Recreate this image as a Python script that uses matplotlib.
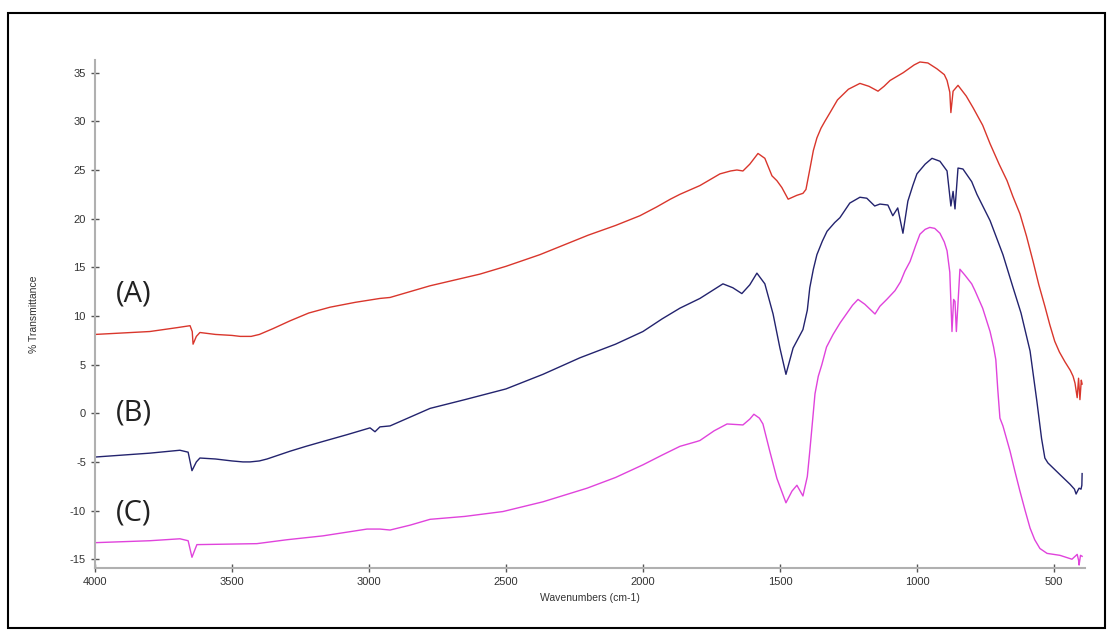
import matplotlib.pyplot as plt
from matplotlib.patches import Rectangle
from matplotlib.ticker import MultipleLocator

plt.rcParams['axes.unicode_minus'] = False

# FTIR spectra, wavenumber (cm-1) vs % transmittance
wn_a = [4000, 3800, 3700, 3653, 3645, 3642, 3630, 3617, 3560, 3500, 3470, 3430,
        3400, 3350, 3288, 3220, 3142, 3050, 2960, 2923, 2777, 2595, 2500, 2376,
        2200, 2100, 2011, 1950, 1900, 1865, 1792, 1719, 1680, 1657, 1635, 1610,
        1580, 1555, 1529, 1511, 1493, 1470, 1438, 1416, 1405, 1390, 1378, 1365,
        1350, 1336, 1317, 1290, 1250, 1208, 1175, 1142, 1120, 1098, 1050, 1010,
        989, 960, 927, 900, 890, 880, 876, 868, 850, 820, 795, 760, 733, 700,
        671, 650, 624, 600, 576, 555, 533, 515, 497, 480, 460, 440, 430, 423,
        415, 410, 405, 400, 397]
tr_a = [8.1, 8.4, 8.8, 9.0, 8.4, 7.1, 7.9, 8.3, 8.1, 8.0, 7.9, 7.9,
        8.1, 8.7, 9.5, 10.3, 10.9, 11.4, 11.8, 11.9, 13.1, 14.3, 15.1, 16.3,
        18.3, 19.3, 20.3, 21.2, 22.0, 22.5, 23.4, 24.6, 24.9, 25.0, 24.9, 25.6,
        26.7, 26.2, 24.4, 23.9, 23.2, 22.0, 22.4, 22.6, 23.0, 25.2, 27.0, 28.3,
        29.3, 30.0, 30.9, 32.2, 33.3, 33.9, 33.6, 33.1, 33.6, 34.2, 35.0, 35.8,
        36.1, 36.0, 35.4, 34.8, 34.2, 33.0, 30.9, 33.1, 33.7, 32.6, 31.4, 29.6, 27.7, 25.6,
        23.9, 22.3, 20.5, 18.2, 15.6, 13.2, 11.0, 9.1, 7.4, 6.3, 5.3, 4.4, 3.8, 3.1,
        1.6, 3.6, 1.4, 3.4, 3.0]

wn_b = [4000, 3800, 3690, 3660, 3646, 3630, 3617, 3560, 3500, 3460, 3434, 3400,
        3372, 3330, 3288, 3230, 3168, 3080, 2996, 2978, 2960, 2923, 2850, 2777,
        2650, 2500, 2365, 2230, 2100, 2000, 1930, 1865, 1792, 1708, 1672, 1639,
        1610, 1584, 1555, 1525, 1500, 1478, 1452, 1416, 1400, 1391, 1378, 1365,
        1345, 1328, 1300, 1281, 1245, 1208, 1183, 1154, 1135, 1106, 1088, 1070,
        1051, 1033, 1015, 1000, 970, 945, 916, 890, 876, 868, 861, 850, 832, 800,
        781, 733, 686, 650, 620, 587, 562, 545, 533, 522, 500, 478, 441, 425,
        419, 412, 408, 401, 398, 397]
tr_b = [-4.5, -4.1, -3.8, -4.0, -5.9, -5.0, -4.6, -4.7, -4.9, -5.0, -5.0, -4.9,
        -4.7, -4.3, -3.9, -3.4, -2.9, -2.2, -1.5, -1.9, -1.4, -1.3, -0.4, 0.5,
        1.4, 2.5, 4.0, 5.7, 7.1, 8.4, 9.7, 10.8, 11.8, 13.3, 12.9, 12.3,
        13.2, 14.4, 13.3, 10.2, 6.7, 4.0, 6.7, 8.6, 10.6, 12.9, 14.8, 16.3,
        17.7, 18.7, 19.6, 20.1, 21.6, 22.2, 22.1, 21.3, 21.5, 21.4, 20.3, 21.1,
        18.5, 21.8, 23.4, 24.6, 25.6, 26.2, 25.9, 24.9, 21.3, 22.8, 21.0, 25.2, 25.1, 23.8,
        22.5, 19.8, 16.3, 13.0, 10.3, 6.4, 1.2, -2.6, -4.6, -5.1, -5.7, -6.3, -7.3, -7.8,
        -8.3, -7.9, -7.7, -7.8, -7.4, -6.2]

wn_c = [4000, 3800, 3690, 3660, 3646, 3635, 3628, 3409, 3300, 3168, 3007, 2960,
        2923, 2850, 2777, 2650, 2511, 2365, 2204, 2100, 2000, 1930, 1865, 1803,
        1792, 1740, 1693, 1635, 1610, 1595, 1575, 1562, 1537, 1511, 1478, 1456,
        1438, 1416, 1400, 1391, 1380, 1372, 1360, 1347, 1330, 1306, 1280, 1255,
        1235, 1215, 1190, 1164, 1153, 1135, 1110, 1080, 1060, 1044, 1025, 1005,
        989, 970, 953, 935, 916, 900, 890, 880, 872, 866, 861, 856, 843, 825,
        800, 788, 760, 733, 720, 712, 705, 697, 686, 660, 642, 624, 605, 587,
        570, 551, 525, 478, 434, 415, 410, 408, 403, 397]
tr_c = [-13.3, -13.1, -12.9, -13.1, -14.8, -14.0, -13.5, -13.4, -13.0, -12.6, -11.9, -11.9,
        -12.0, -11.5, -10.9, -10.6, -10.1, -9.1, -7.7, -6.6, -5.3, -4.3, -3.4, -2.9,
        -2.8, -1.8, -1.1, -1.2, -0.6, -0.1, -0.5, -1.1, -3.9, -6.7, -9.2, -8.0,
        -7.4, -8.5, -6.5, -3.9, -0.5, 2.0, 3.8, 5.0, 6.8, 8.1, 9.3, 10.3,
        11.1, 11.7, 11.2, 10.5, 10.2, 11.0, 11.7, 12.6, 13.5, 14.6, 15.6, 17.2,
        18.4, 18.9, 19.1, 19.0, 18.5, 17.6, 16.7, 14.5, 8.4, 11.7, 11.5, 8.4, 14.8, 14.2,
        13.3, 12.6, 10.8, 8.4, 6.8, 5.5, 2.5, -0.5, -1.3, -3.9, -6.0, -8.0, -10.0, -11.8,
        -13.0, -13.9, -14.4, -14.6, -15.0, -14.5, -15.1, -15.6, -14.6, -14.7]

labels = ['(A)', '(B)', '(C)']
label_y = [12.3, 0.0, -10.3]

fig = plt.figure(figsize=(11.07, 6.32), dpi=100)
ax = fig.add_axes([0.0858, 0.1013, 0.8942, 0.8037])

ax.plot(wn_a, tr_a, color='#d9362c', lw=1.0)
ax.plot(wn_b, tr_b, color='#23236e', lw=1.0)
ax.plot(wn_c, tr_c, color='#e043dc', lw=1.0)

for lab, yy in zip(labels, label_y):
    ax.text(3925, yy, lab, fontsize=21, family='Open Sans', color='#222222',
            va='center', ha='left')

ax.set_xlim(4000, 387)
ax.set_ylim(-15.9, 36.3)
ax.xaxis.set_major_locator(MultipleLocator(500))
ax.xaxis.set_minor_locator(MultipleLocator(100))
ax.yaxis.set_major_locator(MultipleLocator(5))
ax.yaxis.set_minor_locator(MultipleLocator(1))

for side in ['top', 'right']:
    ax.spines[side].set_visible(False)
for side in ['left', 'bottom']:
    ax.spines[side].set_color('#b0b0b0')
    ax.spines[side].set_linewidth(1.5)

ax.tick_params(which='major', direction='inout', length=6, width=1,
               color='#555555', labelsize=8, labelcolor='#333333')
ax.tick_params(which='minor', direction='inout', length=2, width=1.2,
               color='#444444')
for t in ax.get_xticklabels() + ax.get_yticklabels():
    t.set_family('Liberation Sans')

ax.set_xlabel('Wavenumbers (cm-1)', fontsize=7.5, family='Liberation Sans',
              color='#333333', labelpad=4)
ax.set_ylabel('% Transmittance', fontsize=7.5, family='Liberation Sans',
              color='#333333', labelpad=22)

# outer frame
fig.patches.append(Rectangle((8 / 1107, 4 / 632), 1097 / 1107, 615 / 632,
                             transform=fig.transFigure, fill=False,
                             edgecolor='black', lw=1.5))

fig.savefig('out.png', dpi=100)
